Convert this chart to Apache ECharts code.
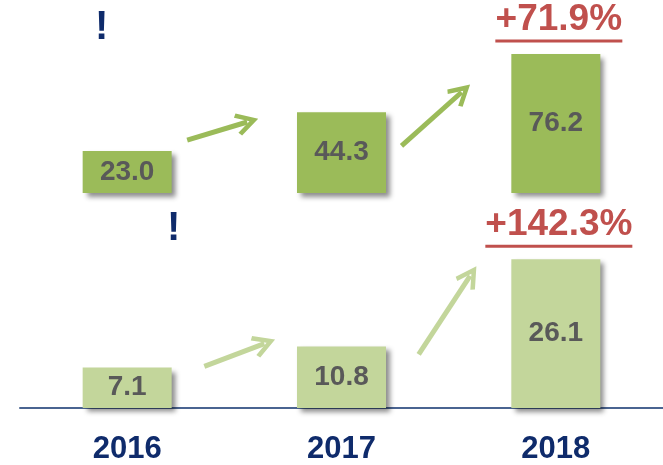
<!DOCTYPE html>
<html><head><meta charset="utf-8">
<script src="https://cdn.jsdelivr.net/npm/echarts@6/dist/echarts.min.js"></script>
<style>html,body{margin:0;padding:0;background:#fff}#c{width:663px;height:465px}</style>
</head><body><div id="c"></div>
<script>
const years = ['2016', '2017', '2018'];
const topValues = [23.0, 44.3, 76.2];
const bottomValues = [7.1, 10.8, 26.1];
const topGrowth = '+71.9%';
const bottomGrowth = '+142.3%';
// arrow annotations: [fromX, fromY, toX, toY] in axis units (x = category index)
const topArrows = [[0.28, 29.0, 0.56, 38.9], [1.28, 25.8, 1.56, 55.2]];
const bottomArrows = [[0.36, 7.3, 0.64, 11.3], [1.36, 9.4, 1.60, 23.2]];
const marks = ['!', '!'];

const F = 'Liberation Sans, Arial, sans-serif';
const DARK = '#9BBB59', LIGHT = '#C3D69B', RED = '#C0504D', NAVY = '#0F2B6B';
const chevron = 'path://M13,0 L26,20 L21.8,22.7 L13,9 L4.2,22.7 L0,20 Z';

const chart = echarts.init(document.getElementById('c'), null, {renderer: 'canvas'});

function textWidth(str, font) {
  const c = document.createElement('canvas').getContext('2d');
  c.font = font;
  return Math.round(c.measureText(str).width);
}

function barSeries(vals, color, xi, yi) {
  return {
    type: 'bar', xAxisIndex: xi, yAxisIndex: yi, data: vals, barWidth: 89,
    itemStyle: {color: color, shadowColor: 'rgba(0,0,0,0.45)', shadowBlur: 5, shadowOffsetX: 4, shadowOffsetY: 4},
    label: {show: true, position: 'inside', fontFamily: F, fontSize: 28, fontWeight: 'bold', color: '#595959',
      formatter: p => p.value.toFixed(1)},
    silent: true
  };
}
function growthSeries(text, val, xi, yi, dist) {
  const w = textWidth(text, 'bold 37px ' + F);
  return {
    type: 'scatter', xAxisIndex: xi, yAxisIndex: yi, symbolSize: 1,
    itemStyle: {color: 'rgba(0,0,0,0)', opacity: 1},
    data: [[2, val]], silent: true,
    label: {show: true, position: 'top', distance: dist, offset: [3, 0],
      formatter: '{t|' + text + '}\n{u| }',
      rich: {
        t: {fontFamily: F, fontSize: 37, fontWeight: 'bold', color: RED, lineHeight: 39},
        u: {width: w, height: 3, lineHeight: 3, fontSize: 1, backgroundColor: RED}
      }}
  };
}
function arrowSeries(arrows, color, xi, yi, w) {
  return {
    type: 'lines', coordinateSystem: 'cartesian2d', xAxisIndex: xi, yAxisIndex: yi, silent: true,
    symbol: ['none', chevron], symbolSize: [26, 23],
    lineStyle: {color: color, width: w, opacity: 1, curveness: 0},
    data: arrows.map(a => ({coords: [[a[0], a[1]], [a[2], a[3]]]}))
  };
}

chart.setOption({
  animation: false,
  backgroundColor: '#fff',
  title: [
    {text: marks[0], left: 95, top: 8, padding: 0, textStyle: {fontFamily: F, fontSize: 40, fontWeight: 'bold', color: NAVY}},
    {text: marks[1], left: 167, top: 209, padding: 0, textStyle: {fontFamily: F, fontSize: 40, fontWeight: 'bold', color: NAVY}}
  ],
  grid: [
    {left: 20, right: 0, top: 47, height: 146},
    {left: 20, right: 0, top: 237, height: 171}
  ],
  xAxis: [
    {type: 'category', gridIndex: 0, data: years, show: false},
    {type: 'category', gridIndex: 1, data: years,
      axisLine: {show: true, lineStyle: {color: '#4A6491', width: 2}}, axisTick: {show: false},
      axisLabel: {fontFamily: F, fontSize: 31, fontWeight: 'bold', color: NAVY, margin: 26}},
    {type: 'value', gridIndex: 0, min: -0.5, max: 2.5, show: false},
    {type: 'value', gridIndex: 1, min: -0.5, max: 2.5, show: false}
  ],
  yAxis: [
    {type: 'value', gridIndex: 0, min: 0, max: 80, show: false},
    {type: 'value', gridIndex: 1, min: 0, max: 30, show: false}
  ],
  series: [
    barSeries(topValues, DARK, 0, 0),
    barSeries(bottomValues, LIGHT, 1, 1),
    arrowSeries(topArrows, DARK, 2, 0, 5),
    arrowSeries(bottomArrows, LIGHT, 3, 1, 5),
    growthSeries(topGrowth, topValues[2], 0, 0, 11),
    growthSeries(bottomGrowth, bottomValues[2], 1, 1, 11)
  ]
});
</script></body></html>
